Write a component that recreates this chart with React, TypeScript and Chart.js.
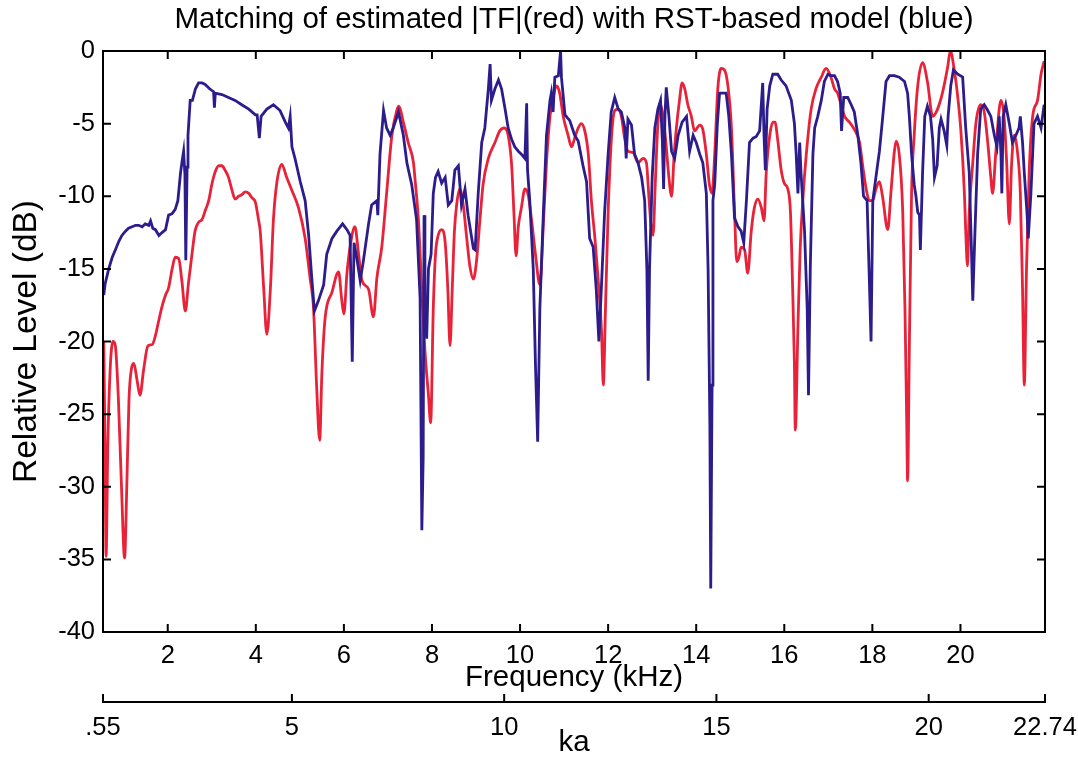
import { useEffect, useRef } from "react";
import { Chart, registerables } from "chart.js";

Chart.register(...registerables);

const FONT = '"Liberation Sans", Arial, Helvetica, sans-serif';
const RED = "rgb(232, 34, 56)";
const BLUE = "rgb(44, 28, 140)";

const TITLE = "Matching of estimated |TF|(red) with RST-based model (blue)";
const X_TITLE = "Frequency (kHz)";
const KA_TITLE = "ka";
const Y_TITLE = "Relative Level (dB)";

const freqTicks = [2, 4, 6, 8, 10, 12, 14, 16, 18, 20];
const levelTicks = [0, -5, -10, -15, -20, -25, -30, -35, -40];
const kaTicks = [0.55, 5, 10, 15, 20, 22.74];
const kaTickLabels = [".55", "5", "10", "15", "20", "22.74"];

// estimated |TF| (red)
const redFreq = [
  0.547, 0.575, 0.6, 0.64, 0.7, 0.76, 0.81, 0.88, 0.95, 1.02, 1.07, 1.12, 1.18, 1.23, 1.3, 1.37, 1.45, 1.55, 1.65, 1.72,
  1.8, 1.87, 1.95, 2.02, 2.1, 2.17, 2.25, 2.32, 2.4, 2.47, 2.55, 2.62, 2.7, 2.78, 2.85, 2.93, 3.0, 3.08, 3.16, 3.23,
  3.3, 3.38, 3.46, 3.53, 3.61, 3.68, 3.76, 3.84, 3.91, 3.99, 4.06, 4.1, 4.18, 4.25, 4.33, 4.4, 4.48, 4.59, 4.7, 4.82,
  4.97, 5.12, 5.23, 5.31, 5.38, 5.45, 5.5, 5.57, 5.73, 5.88, 5.95, 6.0, 6.07, 6.14, 6.25, 6.33, 6.41, 6.56, 6.67, 6.75,
  6.86, 6.97, 7.09, 7.2, 7.25, 7.35, 7.46, 7.58, 7.62, 7.69, 7.77, 7.84, 7.92, 7.97, 8.03, 8.08, 8.14, 8.22, 8.3, 8.36,
  8.41, 8.46, 8.51, 8.56, 8.63, 8.71, 8.79, 8.86, 8.94, 9.01, 9.09, 9.16, 9.28, 9.43, 9.54, 9.64, 9.73, 9.81, 9.86, 9.91,
  9.96, 10.03, 10.11, 10.19, 10.26, 10.35, 10.45, 10.53, 10.6, 10.68, 10.75, 10.83, 10.9, 10.98, 11.09, 11.17, 11.24, 11.32, 11.39, 11.47,
  11.55, 11.62, 11.7, 11.77, 11.85, 11.89, 11.94, 12.0, 12.08, 12.15, 12.23, 12.3, 12.38, 12.45, 12.57, 12.68, 12.79, 12.87, 12.92, 12.97,
  13.02, 13.07, 13.13, 13.19, 13.25, 13.32, 13.38, 13.44, 13.5, 13.55, 13.62, 13.68, 13.74, 13.81, 13.89, 13.96, 14.08, 14.15, 14.23, 14.3,
  14.36, 14.42, 14.49, 14.57, 14.64, 14.72, 14.8, 14.87, 14.92, 14.97, 15.02, 15.1, 15.17, 15.25, 15.32, 15.4, 15.48, 15.54, 15.59, 15.67,
  15.74, 15.79, 15.85, 15.93, 16.0, 16.08, 16.14, 16.19, 16.23, 16.25, 16.31, 16.36, 16.42, 16.5, 16.61, 16.72, 16.84, 16.95, 17.06, 17.14,
  17.21, 17.29, 17.37, 17.48, 17.59, 17.71, 17.78, 17.86, 17.93, 18.01, 18.08, 18.16, 18.23, 18.35, 18.42, 18.5, 18.54, 18.61, 18.69, 18.74,
  18.78, 18.8, 18.84, 18.89, 18.95, 19.03, 19.14, 19.25, 19.37, 19.48, 19.59, 19.71, 19.77, 19.86, 19.94, 20.01, 20.09, 20.12, 20.16, 20.2,
  20.28, 20.35, 20.46, 20.54, 20.62, 20.69, 20.73, 20.8, 20.88, 20.92, 20.99, 21.05, 21.11, 21.16, 21.22, 21.3, 21.36, 21.41, 21.45, 21.5,
  21.56, 21.64, 21.75, 21.83, 21.9,
];
const redLevel = [
  -20.0, -27, -34.8, -27, -21.5, -20.0, -20.3, -24, -30, -34.9, -30, -24, -21.8, -21.5, -22.6, -23.7, -22.0, -20.3, -20.2, -19.6,
  -18.5, -17.6, -16.8, -16.3, -15.0, -14.2, -14.3, -15.8, -17.9, -16.0, -14.0, -12.4, -11.8, -11.6, -11.0, -10.3, -9.2, -8.3, -7.9, -7.9,
  -8.2, -8.7, -9.6, -10.2, -10.0, -9.9, -9.7, -9.8, -10.1, -10.4, -11.6, -12.4, -16.4, -19.5, -16.4, -11.6, -9.0, -7.8, -8.7, -9.6,
  -10.8, -12.9, -15.6, -17.7, -23.0, -26.8, -22.2, -18.5, -16.6, -15.2, -17.1, -18.1, -15.3, -13.5, -12.1, -13.9, -15.8, -16.4, -18.3, -15.6,
  -13.5, -9.8, -5.8, -4.1, -3.8, -4.9, -6.3, -7.7, -9.0, -11.5, -16.5, -20.6, -23.7, -25.6, -17.7, -14.0, -12.7, -12.3, -13.2, -16.4,
  -20.3, -16.4, -12.4, -10.6, -9.5, -10.6, -12.9, -14.8, -15.7, -14.5, -11.6, -9.2, -7.4, -6.3, -5.5, -5.3, -5.8, -7.9, -11.1, -14.1,
  -12.1, -10.8, -9.5, -10.0, -11.6, -14.0, -16.1, -11.9, -7.7, -4.5, -3.2, -2.4, -2.9, -4.5, -5.8, -6.6, -6.0, -5.3, -5.0, -5.5,
  -7.1, -10.3, -12.9, -15.6, -19.3, -23.0, -17.7, -11.1, -5.8, -4.1, -4.0, -4.5, -6.1, -6.9, -7.0, -7.7, -7.4, -7.7, -9.8, -11.9,
  -12.7, -9.2, -5.0, -3.7, -4.5, -6.6, -8.7, -10.0, -7.1, -5.3, -3.4, -2.2, -2.6, -3.7, -4.5, -5.5, -5.1, -5.4, -7.1, -9.2,
  -9.8, -7.1, -2.6, -1.2, -1.3, -2.4, -5.3, -11.0, -14.5, -14.2, -13.5, -13.7, -15.3, -12.4, -10.8, -10.2, -10.8, -11.7, -8.4, -5.8,
  -4.9, -4.9, -6.1, -8.2, -9.1, -9.5, -11.1, -16.4, -21.6, -26.1, -19.0, -13.7, -10.3, -7.1, -4.0, -2.6, -1.8, -1.2, -1.8, -2.6,
  -2.9, -3.7, -4.5, -4.9, -5.4, -6.3, -7.9, -9.5, -10.3, -10.3, -9.5, -9.0, -10.0, -12.3, -9.8, -6.9, -6.2, -7.1, -11.1, -17.7,
  -25.6, -29.6, -20.3, -9.8, -5.8, -2.4, -0.8, -2.1, -4.5, -4.0, -2.9, -1.1, 0, -1.3, -3.2, -5.5, -9.8, -12.4, -14.8, -11.1,
  -7.7, -5.0, -3.7, -4.2, -6.3, -8.7, -9.8, -7.1, -4.0, -3.4, -4.5, -7.7, -11.9, -7.9, -5.8, -7.1, -9.8, -16.4, -23.0, -15.0,
  -8.4, -4.5, -3.4, -1.6, -0.7,
];

// RST-based model (blue)
const blueFreq = [
  0.547, 0.58, 0.66, 0.74, 0.81, 0.89, 0.96, 1.04, 1.11, 1.19, 1.27, 1.34, 1.42, 1.49, 1.57, 1.61, 1.66, 1.72, 1.8, 1.87,
  1.95, 2.02, 2.1, 2.17, 2.23, 2.29, 2.33, 2.36, 2.39, 2.41, 2.44, 2.46, 2.51, 2.56, 2.63, 2.7, 2.78, 2.85, 2.95, 3.04,
  3.06, 3.08, 3.23, 3.38, 3.53, 3.68, 3.84, 3.99, 4.03, 4.08, 4.12, 4.25, 4.4, 4.55, 4.67, 4.74, 4.78, 4.82, 4.89, 5.01,
  5.12, 5.2, 5.27, 5.33, 5.42, 5.54, 5.61, 5.73, 5.84, 5.97, 6.07, 6.14, 6.19, 6.23, 6.29, 6.37, 6.44, 6.56, 6.63, 6.75,
  6.77, 6.82, 6.9, 6.97, 7.05, 7.12, 7.24, 7.35, 7.43, 7.54, 7.65, 7.73, 7.77, 7.8, 7.82, 7.84, 7.88, 7.92, 7.98, 8.03,
  8.08, 8.14, 8.22, 8.3, 8.37, 8.45, 8.52, 8.6, 8.67, 8.75, 8.82, 8.94, 8.98, 9.05, 9.13, 9.2, 9.28, 9.32, 9.35, 9.43,
  9.51, 9.58, 9.66, 9.73, 9.81, 9.88, 9.96, 10.03, 10.11, 10.15, 10.17, 10.22, 10.3, 10.35, 10.4, 10.45, 10.53, 10.6, 10.68, 10.71,
  10.75, 10.79, 10.87, 10.92, 10.94, 11.02, 11.13, 11.24, 11.32, 11.43, 11.51, 11.58, 11.66, 11.73, 11.79, 11.85, 11.92, 12.0, 12.07, 12.15,
  12.23, 12.3, 12.38, 12.41, 12.45, 12.53, 12.6, 12.68, 12.76, 12.83, 12.88, 12.91, 12.94, 13.0, 13.06, 13.13, 13.19, 13.23, 13.26, 13.29,
  13.32, 13.38, 13.44, 13.51, 13.59, 13.68, 13.78, 13.85, 13.93, 14.0, 14.08, 14.15, 14.23, 14.27, 14.31, 14.33, 14.36, 14.38, 14.42, 14.48,
  14.53, 14.61, 14.68, 14.74, 14.8, 14.87, 14.95, 15.02, 15.08, 15.14, 15.21, 15.29, 15.36, 15.44, 15.51, 15.54, 15.57, 15.61, 15.67, 15.74,
  15.85, 15.93, 16.04, 16.16, 16.23, 16.27, 16.31, 16.35, 16.38, 16.46, 16.52, 16.55, 16.59, 16.65, 16.69, 16.76, 16.84, 16.91, 16.99, 17.06,
  17.14, 17.21, 17.27, 17.3, 17.35, 17.44, 17.52, 17.59, 17.67, 17.74, 17.8, 17.88, 17.93, 17.97, 18.01, 18.08, 18.16, 18.23, 18.31, 18.39,
  18.5, 18.61, 18.73, 18.8, 18.84, 18.89, 18.95, 18.99, 19.03, 19.07, 19.09, 19.14, 19.19, 19.25, 19.32, 19.37, 19.41, 19.47, 19.52, 19.56,
  19.63, 19.69, 19.72, 19.78, 19.84, 19.94, 20.05, 20.12, 20.2, 20.25, 20.28, 20.33, 20.39, 20.46, 20.54, 20.62, 20.69, 20.77, 20.83, 20.88,
  20.92, 20.94, 20.97, 21.03, 21.11, 21.18, 21.26, 21.33, 21.36, 21.41, 21.45, 21.51, 21.54, 21.6, 21.67, 21.75, 21.83, 21.9,
];
const blueLevel = [
  -16.8, -16.0, -15.0, -14.2, -13.7, -13.1, -12.7, -12.4, -12.2, -12.1, -12.0, -12.0, -12.1, -11.9, -12.0, -11.7, -12.2, -12.3, -12.7, -12.5,
  -12.3, -11.3, -11.2, -10.9, -10.3, -8.4, -7.5, -6.9, -8.5, -14.4, -8.0, -5.8, -3.4, -3.4, -2.6, -2.2, -2.2, -2.3, -2.6, -2.8,
  -3.9, -2.9, -3.0, -3.2, -3.4, -3.7, -4.0, -4.4, -4.4, -6.0, -4.5, -4.0, -3.7, -4.1, -4.9, -5.3, -4.5, -6.6, -7.4, -9.0,
  -10.3, -12.7, -15.6, -17.9, -17.2, -16.1, -14.0, -12.9, -12.4, -11.9, -12.3, -12.7, -21.4, -13.2, -14.2, -15.8, -14.5, -11.9, -10.6, -10.3,
  -11.3, -7.1, -4.1, -5.3, -5.8, -5.3, -4.2, -5.8, -7.7, -9.2, -11.6, -17.0, -33.0, -28.0, -11.3, -18.5, -19.8, -15.0, -14.0, -9.8,
  -8.7, -8.3, -9.1, -8.7, -10.6, -10.3, -8.2, -7.9, -10.6, -9.5, -11.3, -13.6, -13.7, -9.8, -6.3, -5.3, -2.6, -0.9, -3.4, -2.6,
  -2.0, -2.6, -4.0, -5.3, -6.1, -6.6, -6.9, -7.1, -7.4, -3.6, -8.2, -10.3, -15.0, -21.6, -26.9, -17.7, -11.1, -5.8, -3.4, -2.9,
  -4.2, -1.8, -1.7, 0.0, -1.8, -4.4, -4.8, -5.8, -6.2, -7.9, -9.0, -12.9, -13.5, -16.4, -20.0, -16.1, -11.1, -7.1, -4.2, -3.2,
  -4.0, -4.2, -5.3, -7.4, -4.7, -5.1, -7.1, -7.7, -8.7, -10.3, -15.0, -22.7, -15.0, -8.7, -5.3, -4.0, -3.4, -6.1, -9.5, -4.5,
  -2.5, -4.5, -6.9, -7.4, -5.8, -4.9, -4.5, -6.9, -5.8, -6.3, -7.1, -7.7, -9.8, -15.0, -25.6, -37.0, -23.0, -10.3, -9.2, -5.0,
  -2.9, -2.9, -2.9, -4.5, -7.1, -11.5, -12.1, -12.4, -13.2, -10.3, -6.3, -6.0, -5.9, -5.5, -2.2, -5.8, -8.2, -4.0, -2.4, -1.6,
  -1.6, -2.0, -2.4, -3.4, -5.0, -7.1, -9.8, -6.3, -8.4, -12.4, -17.7, -23.7, -15.0, -7.1, -5.3, -4.5, -3.4, -2.1, -1.6, -1.7,
  -1.7, -2.1, -2.9, -5.5, -3.2, -3.2, -3.7, -4.2, -5.8, -7.7, -10.0, -10.3, -15.6, -20.0, -10.3, -8.7, -6.9, -4.7, -2.1, -1.7,
  -1.7, -1.8, -2.1, -2.9, -4.5, -7.1, -9.2, -10.0, -11.1, -11.3, -13.7, -8.4, -4.5, -3.8, -4.5, -6.1, -8.7, -7.9, -5.3, -4.7,
  -5.5, -6.5, -4.5, -2.4, -1.3, -1.6, -1.8, -5.3, -8.4, -13.7, -17.2, -12.4, -7.1, -4.0, -3.7, -4.1, -4.5, -5.8, -6.6, -4.5,
  -7.1, -9.8, -4.5, -3.7, -5.0, -6.3, -5.8, -5.3, -4.5, -6.3, -8.4, -11.1, -12.9, -9.8, -5.0, -4.5, -5.3, -3.7,
];

const toPoints = (xs: number[], ys: number[]) => xs.map((x, i) => ({ x, y: ys[i] }));

const framePlugin = {
  id: "matlabFrame",
  afterDatasetsDraw(chart: any) {
    const { ctx, chartArea: a, scales } = chart;
    const L = 8;
    ctx.save();
    ctx.strokeStyle = "#000";
    ctx.lineWidth = 2;
    ctx.strokeRect(a.left, a.top, a.right - a.left, a.bottom - a.top);
    ctx.beginPath();
    scales.x.ticks.forEach((t: any) => {
      const p = scales.x.getPixelForValue(t.value);
      ctx.moveTo(p, a.bottom);
      ctx.lineTo(p, a.bottom - L);
      ctx.moveTo(p, a.top);
      ctx.lineTo(p, a.top + L);
    });
    scales.y.ticks.forEach((t: any) => {
      const p = scales.y.getPixelForValue(t.value);
      ctx.moveTo(a.left, p);
      ctx.lineTo(a.left + L, p);
      ctx.moveTo(a.right, p);
      ctx.lineTo(a.right - L, p);
    });
    const k = scales.ka;
    k.ticks.forEach((t: any) => {
      const p = k.getPixelForValue(t.value);
      ctx.moveTo(p, k.top);
      ctx.lineTo(p, k.top - L);
    });
    ctx.stroke();
    ctx.restore();
  },
};

const titlePlugin = {
  id: "centeredTitle",
  afterDraw(chart: any) {
    const { ctx, chartArea: a } = chart;
    ctx.save();
    ctx.font = `29.5px ${FONT}`;
    ctx.fillStyle = "#000";
    ctx.textAlign = "center";
    ctx.textBaseline = "middle";
    ctx.fillText(TITLE, (a.left + a.right) / 2, 20);
    ctx.restore();
  },
};

const noSidePadding = (s: any) => {
  s.paddingLeft = 0;
  s.paddingRight = 0;
};

export default function App() {
  const ref = useRef<HTMLCanvasElement>(null);

  useEffect(() => {
    document.body.style.margin = "0";
    document.body.style.overflow = "hidden";
    const tickFont = { family: FONT, size: 25.5 };
    const titleFont = { family: FONT, size: 29.5 };
    const chart = new Chart(ref.current as HTMLCanvasElement, {
      type: "line",
      data: {
        datasets: [
          {
            label: "RST-based model (blue)",
            data: toPoints(blueFreq, blueLevel),
            borderColor: BLUE,
            borderWidth: 2.8,
            pointRadius: 0,
            tension: 0,
            order: 1,
          },
          {
            label: "estimated |TF| (red)",
            data: toPoints(redFreq, redLevel),
            borderColor: RED,
            borderWidth: 2.8,
            pointRadius: 0,
            cubicInterpolationMode: "monotone",
            order: 2,
          },
        ],
      },
      options: {
        animation: false,
        responsive: false,
        events: [],
        layout: { padding: { top: 51, right: 33, bottom: 0, left: 0 } },
        plugins: {
          legend: { display: false },
          tooltip: { enabled: false },
          title: { display: false },
        },
        scales: {
          x: {
            type: "linear",
            position: "bottom",
            min: 0.53,
            max: 21.92,
            afterBuildTicks: (s: any) => {
              s.ticks = freqTicks.map((v) => ({ value: v }));
            },
            afterFit: (s: any) => {
              s.height = 70;
              noSidePadding(s);
            },
            grid: { display: false, drawTicks: false },
            border: { display: false },
            ticks: { color: "#000", font: tickFont, padding: 9, maxRotation: 0, autoSkip: false },
            title: {
              display: true,
              text: X_TITLE,
              color: "#000",
              font: titleFont,
              padding: { top: 0, bottom: 6 },
            },
          },
          ka: {
            type: "linear",
            position: "bottom",
            min: 0.55,
            max: 22.74,
            afterBuildTicks: (s: any) => {
              s.ticks = kaTicks.map((v) => ({ value: v }));
            },
            afterFit: (s: any) => {
              s.height = 57;
              noSidePadding(s);
            },
            grid: { display: false, drawTicks: false },
            border: { display: true, color: "#000", width: 2 },
            ticks: {
              color: "#000",
              font: tickFont,
              padding: 11,
              maxRotation: 0,
              autoSkip: false,
              callback: (_v: any, i: number) => kaTickLabels[i],
            },
            title: {
              display: true,
              text: KA_TITLE,
              color: "#000",
              font: titleFont,
              padding: { top: 0, bottom: -2 },
            },
          },
          y: {
            type: "linear",
            min: -40,
            max: 0,
            afterBuildTicks: (s: any) => {
              s.ticks = levelTicks.map((v) => ({ value: v }));
            },
            afterFit: (s: any) => {
              s.width = 103;
            },
            grid: { display: false, drawTicks: false },
            border: { display: false },
            ticks: { color: "#000", font: tickFont, padding: 8, autoSkip: false },
            title: {
              display: true,
              text: Y_TITLE,
              color: "#000",
              font: { family: FONT, size: 33.5 },
              padding: { top: 7, bottom: 0 },
            },
          },
        },
      } as any,
      plugins: [framePlugin, titlePlugin],
    });
    return () => chart.destroy();
  }, []);

  return (
    <div style={{ width: 1078, height: 759, background: "#fff" }}>
      <canvas ref={ref} width={1078} height={759} style={{ display: "block" }} />
    </div>
  );
}
